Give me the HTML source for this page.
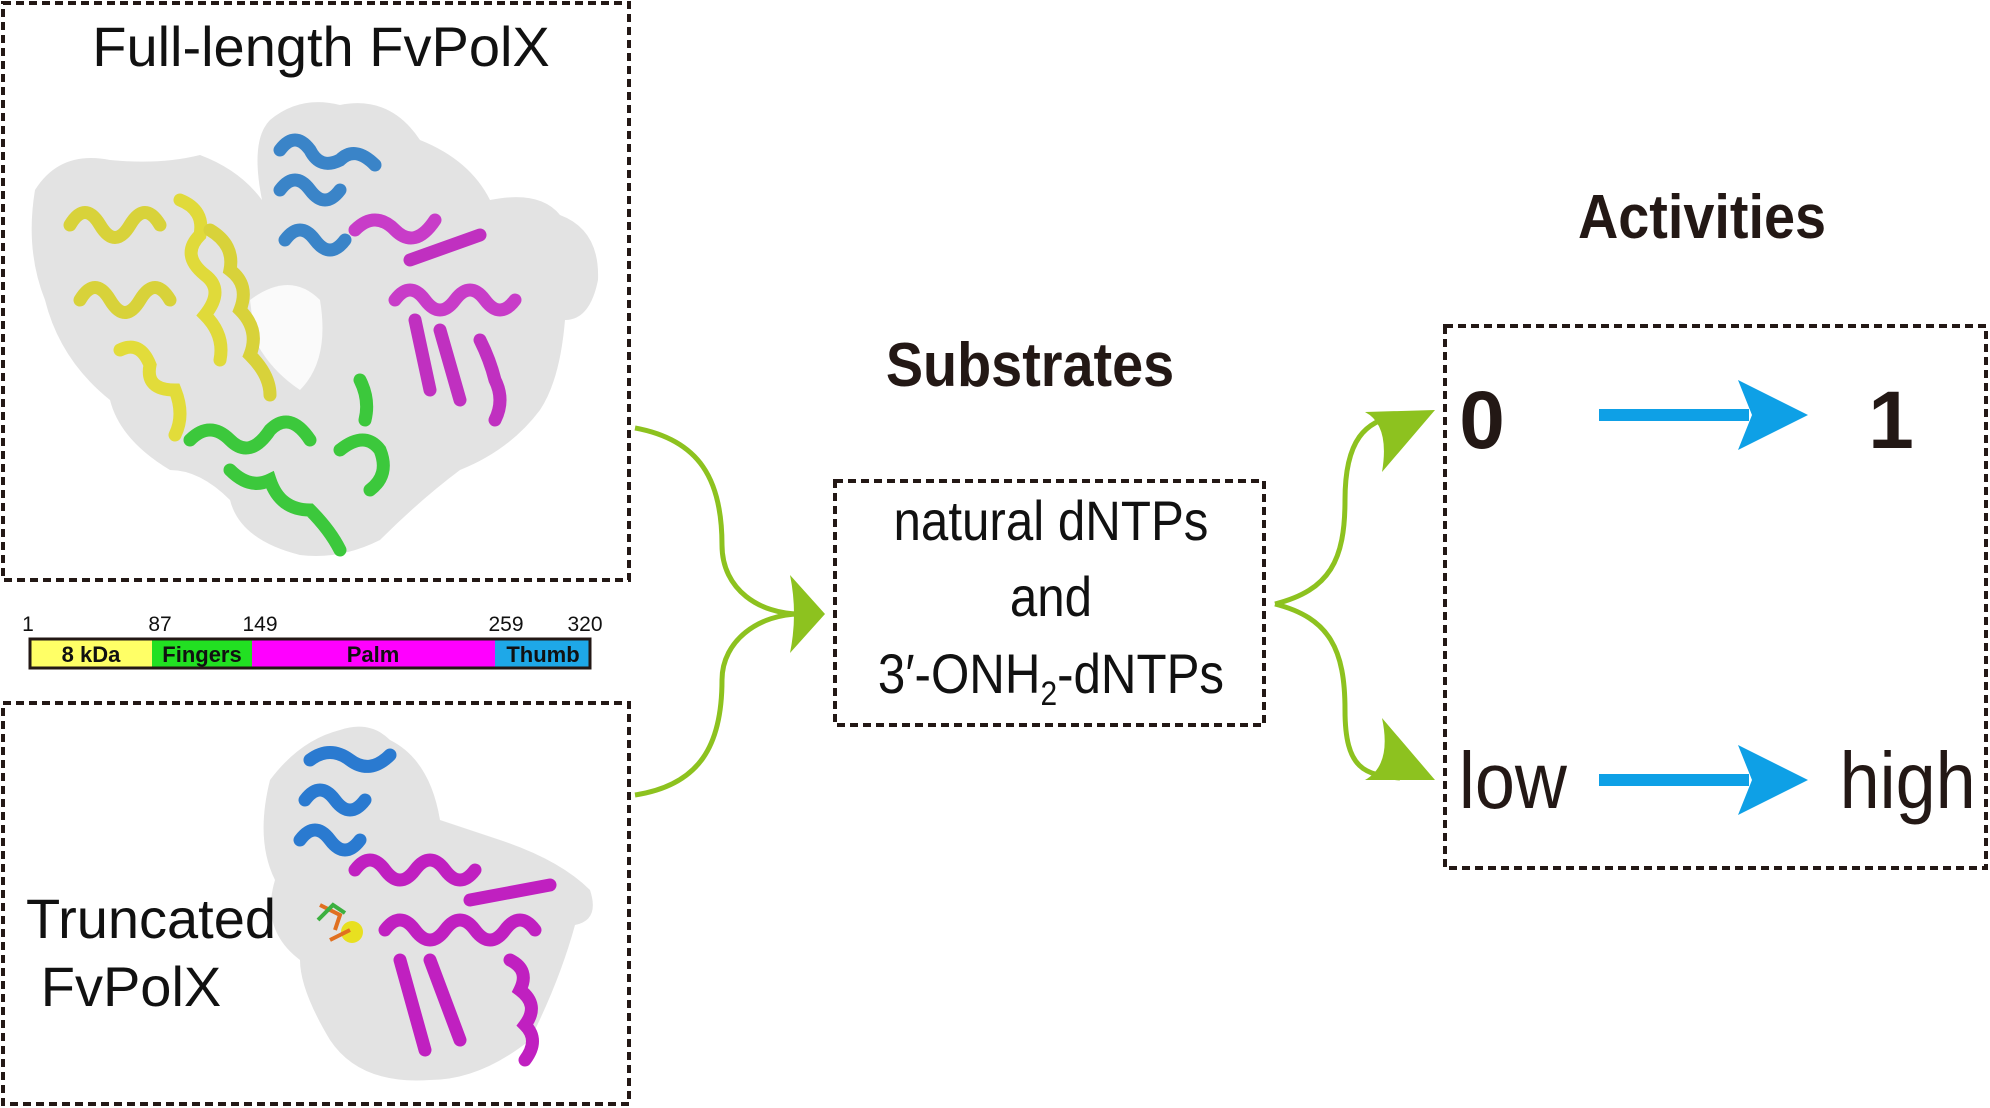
<!DOCTYPE html>
<html><head><meta charset="utf-8"><style>
html,body{margin:0;padding:0;background:#fff;width:1990px;height:1108px;overflow:hidden}
svg{display:block}
text{font-family:"Liberation Sans",sans-serif}
</style></head><body>
<svg width="1990" height="1108" viewBox="0 0 1990 1108" xmlns="http://www.w3.org/2000/svg">
<g fill="none" stroke="#231815" stroke-width="4" stroke-dasharray="8,5">
<rect x="3" y="3" width="626" height="577"/>
<rect x="3" y="703" width="626" height="401"/>
<rect x="835" y="481" width="429" height="244"/>
<rect x="1445" y="326" width="541" height="542"/>
</g>
<text x="321" y="66" font-size="56" text-anchor="middle" fill="#111">Full-length FvPolX</text>
<!-- top protein -->
<g>
<path d="M35 190 Q60 150 110 160 Q160 165 200 155 Q240 170 262 200 Q250 140 270 120 Q300 95 340 105 Q390 95 420 140 Q470 160 490 200 Q540 190 560 215 Q600 230 598 280 Q590 320 565 320 Q560 380 540 410 Q510 450 460 470 Q420 500 380 540 Q340 560 300 555 Q240 540 230 500 Q200 470 170 470 Q120 440 110 400 Q60 360 45 300 Q25 250 35 190 Z" fill="#e3e3e3"/>
<path d="M250 300 Q290 270 320 300 Q330 360 300 390 Q270 370 255 340 Z" fill="#fff" opacity="0.8"/>
<g fill="none" stroke-width="13" stroke-linecap="round">
<path d="M70 225 q15 -25 30 0 q15 25 30 0 q15 -25 30 0" stroke="#d8d23a"/>
<path d="M80 300 q15 -25 30 0 q15 25 30 0 q15 -25 30 0" stroke="#d8d23a"/>
<path d="M180 200 q25 10 20 35 q-20 20 5 40 q20 15 0 40 q20 20 15 45" stroke="#e0da3a"/>
<path d="M210 230 q25 15 20 40 q20 15 10 40 q20 20 10 45 q20 20 20 40" stroke="#d8d23a"/>
<path d="M120 350 q20 -10 30 15 q-5 25 25 25 q10 25 0 45" stroke="#e2dc3a"/>
<path d="M190 440 q20 -20 40 0 q20 20 40 -10 q20 -20 40 10" stroke="#3cc83c"/>
<path d="M230 470 q20 20 40 10 q10 30 40 30 q20 20 30 40" stroke="#3cc83c"/>
<path d="M340 450 q25 -20 40 0 q10 25 -10 40 M360 380 q10 20 5 40" stroke="#3cc83c"/>
<path d="M280 150 q15 -20 30 0 q10 20 30 10 q15 -15 35 5" stroke="#3a84c8"/>
<path d="M280 190 q15 -20 30 0 q15 20 30 0 M285 240 q15 -20 30 0 q15 20 30 0" stroke="#3a84c8"/>
<path d="M355 230 q20 -20 40 0 q20 20 40 -10" stroke="#c83cc8"/>
<path d="M395 300 q15 -20 30 0 q15 20 30 0 q15 -20 30 0 q15 20 30 0" stroke="#c83cc8"/>
<path d="M410 260 l70 -25 M415 320 l15 70 M440 330 l20 70 M480 340 q10 20 15 40 q10 20 0 40" stroke="#c030c0"/>
</g>
</g>
<!-- domain bar -->
<g font-size="21" fill="#111">
<text x="28" y="631" text-anchor="middle">1</text>
<text x="160" y="631" text-anchor="middle">87</text>
<text x="260" y="631" text-anchor="middle">149</text>
<text x="506" y="631" text-anchor="middle">259</text>
<text x="585" y="631" text-anchor="middle">320</text>
</g>
<rect x="30" y="639" width="122" height="29" fill="#ffff66"/>
<rect x="152" y="639" width="100" height="29" fill="#22e022"/>
<rect x="252" y="639" width="243" height="29" fill="#ff00ff"/>
<rect x="495" y="639" width="95" height="29" fill="#1ea8e8"/>
<rect x="30" y="639" width="560" height="29" fill="none" stroke="#231815" stroke-width="3"/>
<g font-size="22" font-weight="bold" fill="#111" text-anchor="middle">
<text x="91" y="662">8 kDa</text>
<text x="202" y="662">Fingers</text>
<text x="373" y="662">Palm</text>
<text x="543" y="662">Thumb</text>
</g>
<!-- bottom protein -->
<path d="M270 780 Q300 740 340 730 Q370 720 390 740 Q430 760 440 820 Q470 830 500 840 Q560 860 590 890 Q600 920 575 925 Q560 980 530 1040 Q480 1080 430 1080 Q360 1085 330 1040 Q300 990 300 960 Q260 930 275 880 Q255 840 270 780 Z" fill="#e3e3e3"/>
<g fill="none" stroke-width="13" stroke-linecap="round">
<path d="M305 800 q15 -20 30 0 q15 20 30 0 M300 840 q15 -20 30 0 q15 20 30 0 M310 760 q20 -15 40 0 q20 15 40 -5" stroke="#2a7ad0"/>
<path d="M355 870 q15 -20 30 0 q15 20 30 0 q15 -20 30 0 q15 20 30 0" stroke="#c020c0"/>
<path d="M385 930 q15 -20 30 0 q15 20 30 0 q15 -20 30 0 q15 20 30 0 q15 -20 30 0" stroke="#c020c0"/>
<path d="M400 960 l25 90 M430 960 l30 80 M470 900 l80 -15 M510 960 q20 10 10 30 q20 15 5 35 q15 15 0 35" stroke="#c020c0"/>
</g>
<circle cx="352" cy="932" r="11" fill="#e8e020"/>
<path d="M320 905 l20 10 l-5 15 M330 940 l20 -10" stroke="#e07020" stroke-width="4" fill="none"/>
<path d="M318 920 l15 -15 l12 8" stroke="#3cb040" stroke-width="4" fill="none"/>
<g font-size="56" fill="#111" text-anchor="middle">
<text x="151" y="938">Truncated</text>
<text x="131" y="1006">FvPolX</text>
</g>
<!-- green connectors -->
<g fill="none" stroke="#8dc21f" stroke-width="5">
<path d="M635 428 C700 440 722 480 722 545 C722 590 760 614 800 614"/>
<path d="M635 795 C700 785 722 745 722 680 C722 640 760 614 800 614"/>
<path d="M1275 604 C1330 590 1345 560 1345 500 C1345 440 1365 420 1400 415"/>
<path d="M1275 604 C1330 618 1345 650 1345 710 C1345 770 1365 775 1400 778"/>
</g>
<g fill="#8dc21f">
<path d="M825 614 L790 575 Q798 614 790 653 Z"/>
<path d="M1435 410 L1365 412 Q1390 425 1382 472 Z"/>
<path d="M1435 780 L1382 718 Q1392 765 1365 780 Z"/>
</g>
<!-- labels -->
<text x="1030" y="386" font-size="62" font-weight="bold" fill="#231815" text-anchor="middle" transform="translate(1030 0) scale(0.9 1) translate(-1030 0)">Substrates</text>
<text x="1702" y="238" font-size="62" font-weight="bold" fill="#231815" text-anchor="middle" transform="translate(1702 0) scale(0.9 1) translate(-1702 0)">Activities</text>
<g font-size="56" fill="#111" text-anchor="middle" transform="translate(1051 0) scale(0.88 1) translate(-1051 0)">
<text x="1051" y="540">natural dNTPs</text>
<text x="1051" y="616">and</text>
<text x="1051" y="693">3′-ONH<tspan font-size="34" dy="12">2</tspan><tspan dy="-12">-dNTPs</tspan></text>
</g>
<g font-size="82" font-weight="bold" fill="#231815">
<text x="1482" y="448" text-anchor="middle">0</text>
<text x="1891" y="448" text-anchor="middle">1</text>
</g>
<g font-size="80" fill="#231815" transform="scale(0.9 1)">
<text x="1621" y="808">low</text>
<text x="2044" y="808">high</text>
</g>
<g fill="#0ea0e6">
<rect x="1599" y="409" width="150" height="12"/>
<path d="M1808 415 L1738 380 L1752 415 L1738 450 Z"/>
<rect x="1599" y="774" width="150" height="12"/>
<path d="M1808 780 L1738 745 L1752 780 L1738 815 Z"/>
</g>
</svg>
</body></html>
